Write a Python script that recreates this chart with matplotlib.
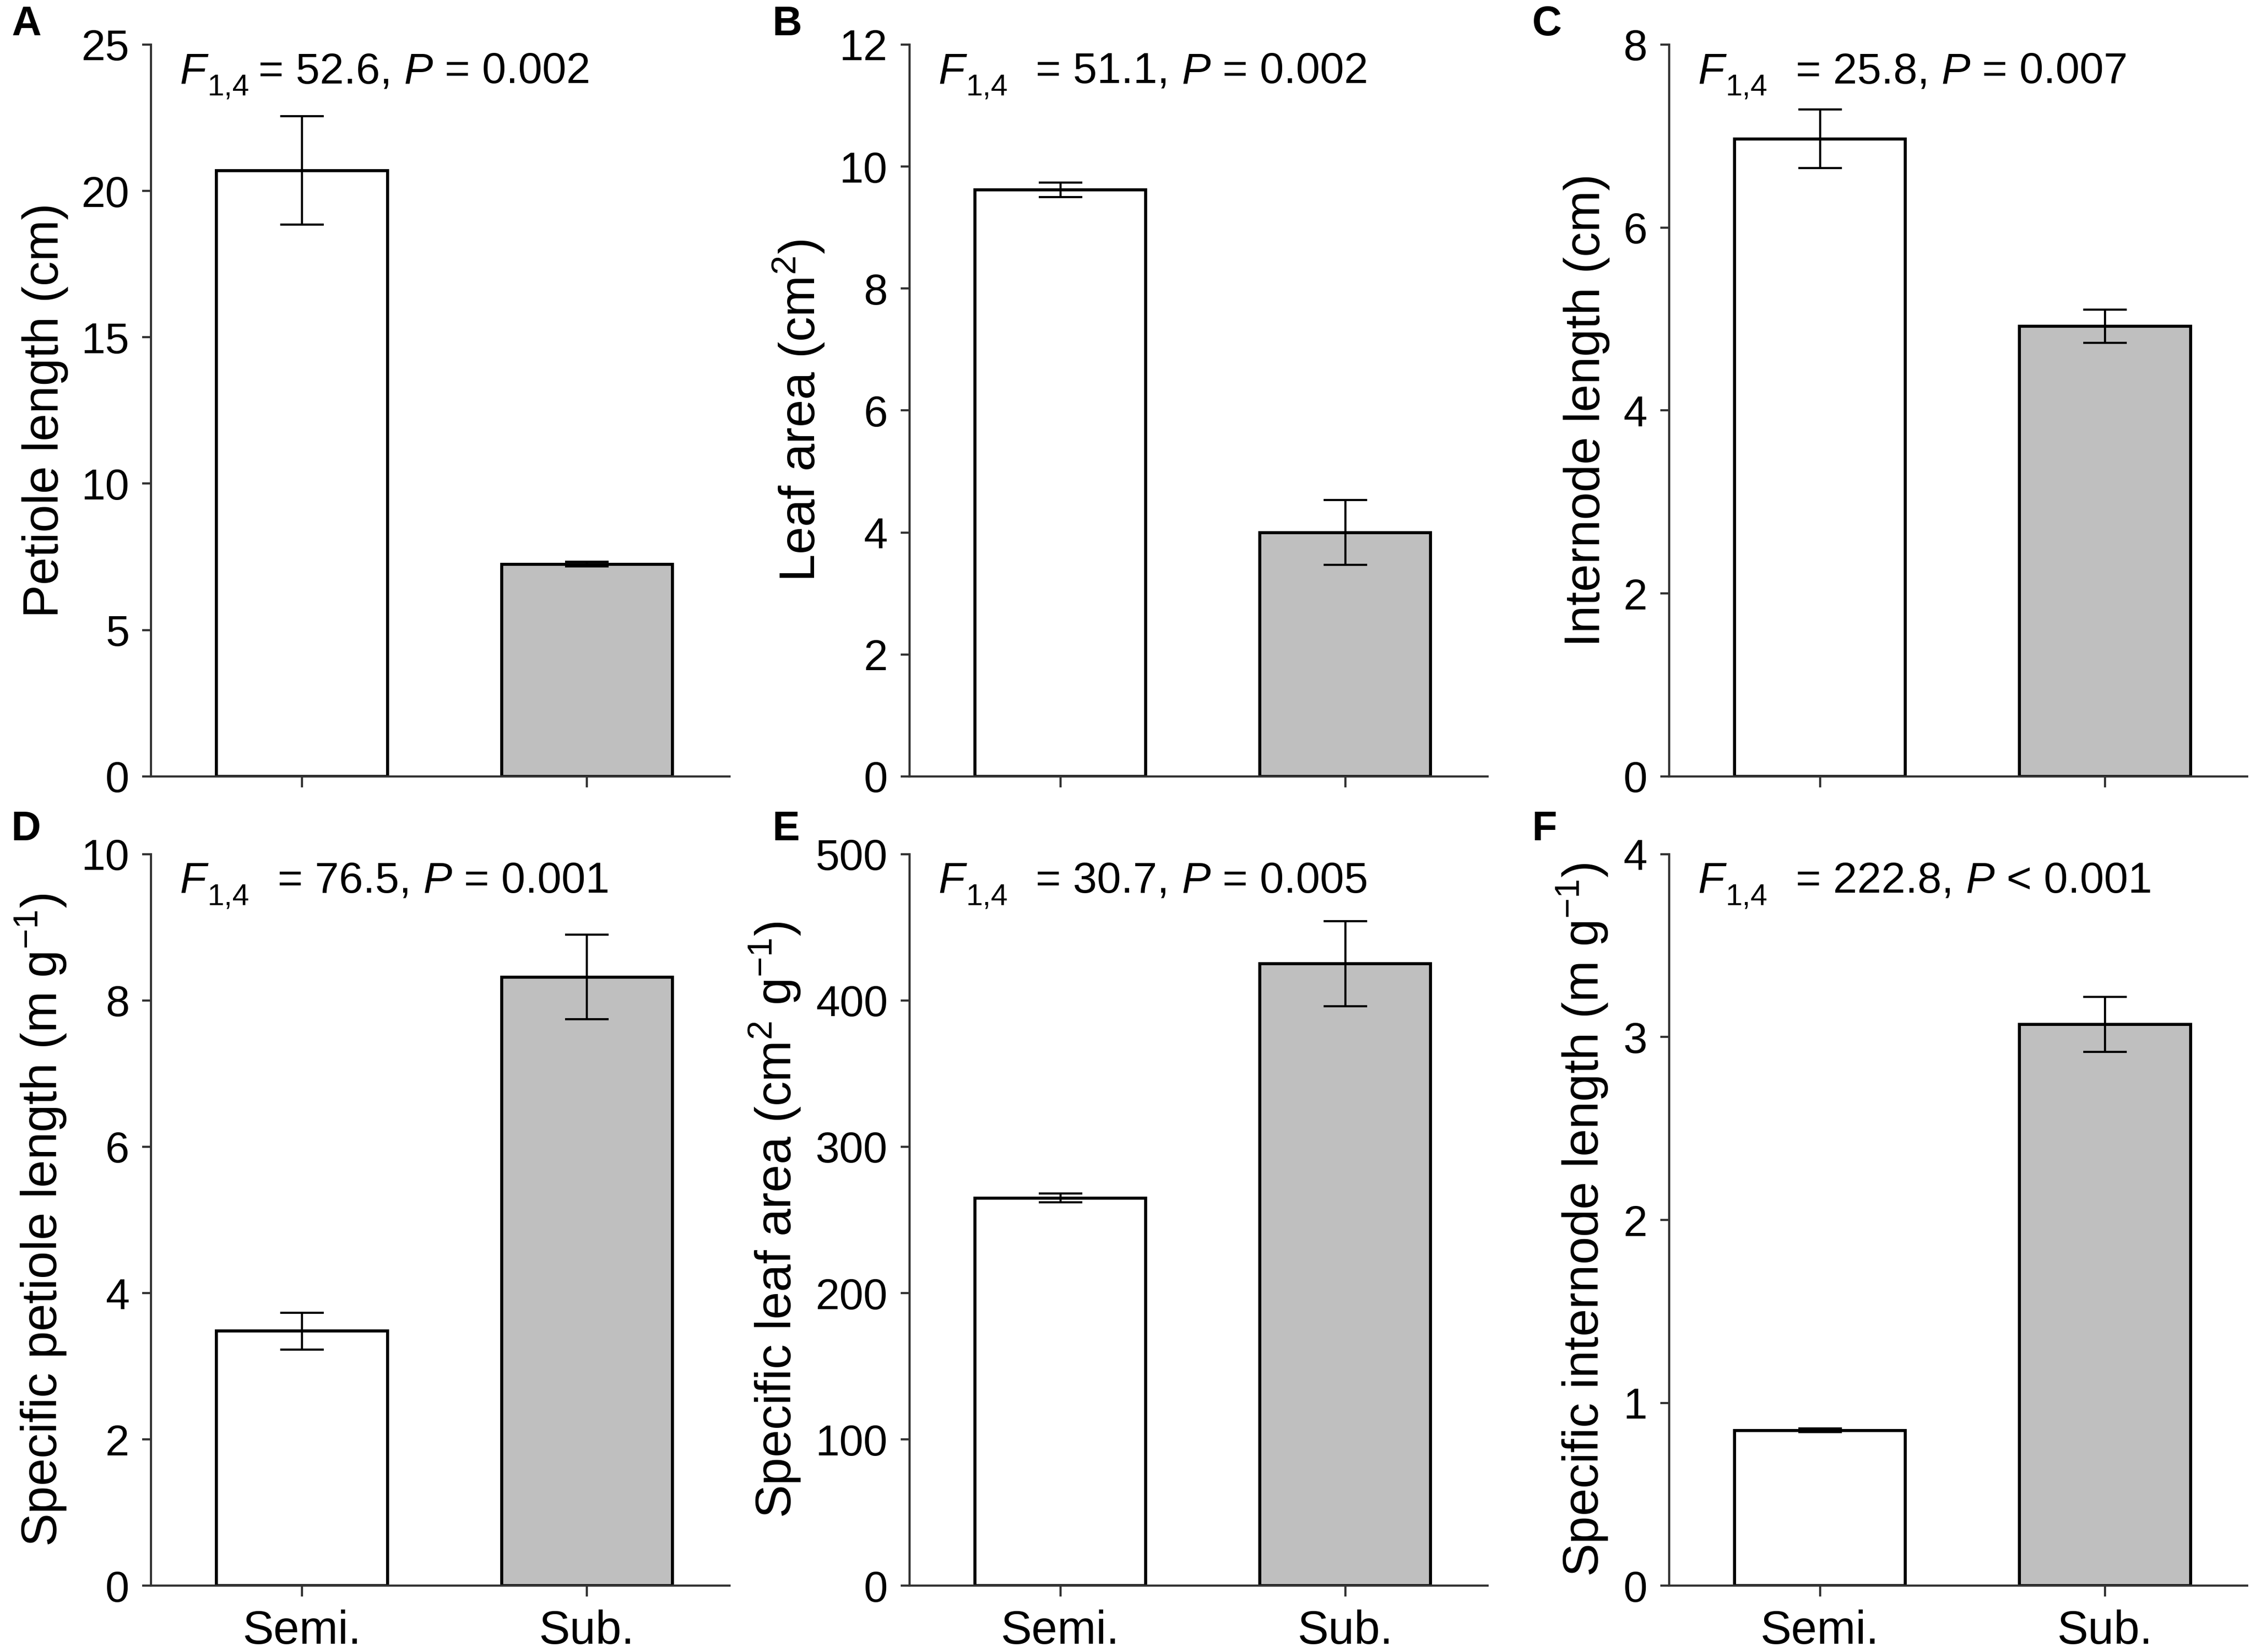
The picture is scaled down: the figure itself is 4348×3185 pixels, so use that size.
import matplotlib
matplotlib.use("Agg")
import matplotlib.pyplot as plt
import numpy as np

plt.rcParams['font.family'] = ['Liberation Sans', 'DejaVu Sans']
plt.rcParams['mathtext.fontset'] = 'custom'
plt.rcParams['mathtext.rm'] = 'Liberation Sans'
plt.rcParams['mathtext.it'] = 'Liberation Sans:italic'
plt.rcParams['mathtext.bf'] = 'Liberation Sans:bold'

categories = ["Semi.", "Sub."]
panel_letters = ["A", "B", "C", "D", "E", "F"]

petiole_length = [20.7, 7.25]
petiole_length_se = [1.85, 0.08]
leaf_area = [9.62, 4.0]
leaf_area_se = [0.12, 0.53]
internode_length = [6.97, 4.92]
internode_length_se = [0.32, 0.18]
specific_petiole_length = [3.48, 8.32]
specific_petiole_length_se = [0.25, 0.58]
specific_leaf_area = [265.0, 425.0]
specific_leaf_area_se = [3.0, 29.0]
specific_internode_length = [0.85, 3.07]
specific_internode_length_se = [0.01, 0.15]

ylabels = ["Petiole length (cm)", "Leaf area (cm$^2$)", "Internode length (cm)",
           "Specific petiole length (m g$^{-1}$)", "Specific leaf area (cm$^2$ g$^{-1}$)",
           "Specific internode length (m g$^{-1}$)"]
f_values = ["52.6", "51.1", "25.8", "76.5", "30.7", "222.8"]
p_relations = ["=", "=", "=", "=", "=", "<"]
p_values = ["0.002", "0.002", "0.007", "0.001", "0.005", "0.001"]
ymax = [25, 12, 8, 10, 500, 4]
ystep = [5, 2, 2, 2, 100, 1]

values = [petiole_length, leaf_area, internode_length,
          specific_petiole_length, specific_leaf_area, specific_internode_length]
errors = [petiole_length_se, leaf_area_se, internode_length_se,
          specific_petiole_length_se, specific_leaf_area_se, specific_internode_length_se]

W, H = 4348, 3185
fig = plt.figure(figsize=(W / 300, H / 300), dpi=300)

lefts = [105 / 1568, 632 / 1568, 1160 / 1568]
width = 402 / 1568
bottoms = [1 - 540 / 1149, 1 - 1103 / 1149]
height = 509 / 1149
letter_x = [8 / 1568, 537 / 1568, 1065 / 1568]
letter_y = [1 - 17 / 1149, 1 - 577 / 1149]

spine_col = '#333333'
ann_fs = 20
for i in range(6):
    r, c = divmod(i, 3)
    ax = fig.add_axes([lefts[c], bottoms[r], width, height])
    x = np.arange(len(categories))
    ax.bar(x, values[i], width=0.6, color=['white', '#bfbfbf'],
           edgecolor='black', linewidth=1.4, zorder=2)
    ax.errorbar(x, values[i], yerr=errors[i], fmt='none', ecolor='black',
                elinewidth=1.0, capsize=10, capthick=1.0, zorder=3)
    ax.set_xlim(-0.53, 1.5)
    ax.set_ylim(0, ymax[i])
    ax.set_yticks(np.arange(0, ymax[i] + ystep[i] / 2, ystep[i]))
    ax.set_xticks(x)
    ax.set_xticklabels(categories if r == 1 else [])
    ax.tick_params(axis='y', labelsize=20, length=4, width=1.0,
                   color=spine_col, pad=6, direction='out')
    ax.tick_params(axis='x', labelsize=21.5, length=5, width=1.0,
                   color=spine_col, pad=6, direction='out')
    for s in ['top', 'right']:
        ax.spines[s].set_visible(False)
    for s in ['left', 'bottom']:
        ax.spines[s].set_color(spine_col)
        ax.spines[s].set_linewidth(1.0)
    ax.set_ylabel(ylabels[i], fontsize=23, labelpad=6)

    # statistics annotation: F(italic) with subscript, then values
    t_f = ax.text(0.05, 0.963, "F", transform=ax.transAxes, fontsize=ann_fs,
                  fontstyle='italic', ha='left', va='center')
    t_sub = ax.annotate("1,4", xy=(1, 0), xycoords=t_f, xytext=(0.5, -1.5),
                        textcoords='offset points', fontsize=14,
                        ha='left', va='baseline')
    gap = 4 if i == 0 else 13
    t_eq = ax.annotate("= " + f_values[i] + ", ", xy=(1, 0), xycoords=(t_sub, t_f),
                       xytext=(gap, 0), textcoords='offset points',
                       fontsize=ann_fs, ha='left', va='bottom')
    t_p = ax.annotate("P", xy=(1, 0), xycoords=t_eq, fontsize=ann_fs,
                      fontstyle='italic', ha='left', va='bottom')
    ax.annotate(" " + p_relations[i] + " " + p_values[i], xy=(1, 0), xycoords=t_p,
                fontsize=ann_fs, ha='left', va='bottom')

    fig.text(letter_x[c], letter_y[r], panel_letters[i], fontsize=19,
             fontweight='bold', ha='left', va='center')

fig.savefig("out.png", dpi=300)
